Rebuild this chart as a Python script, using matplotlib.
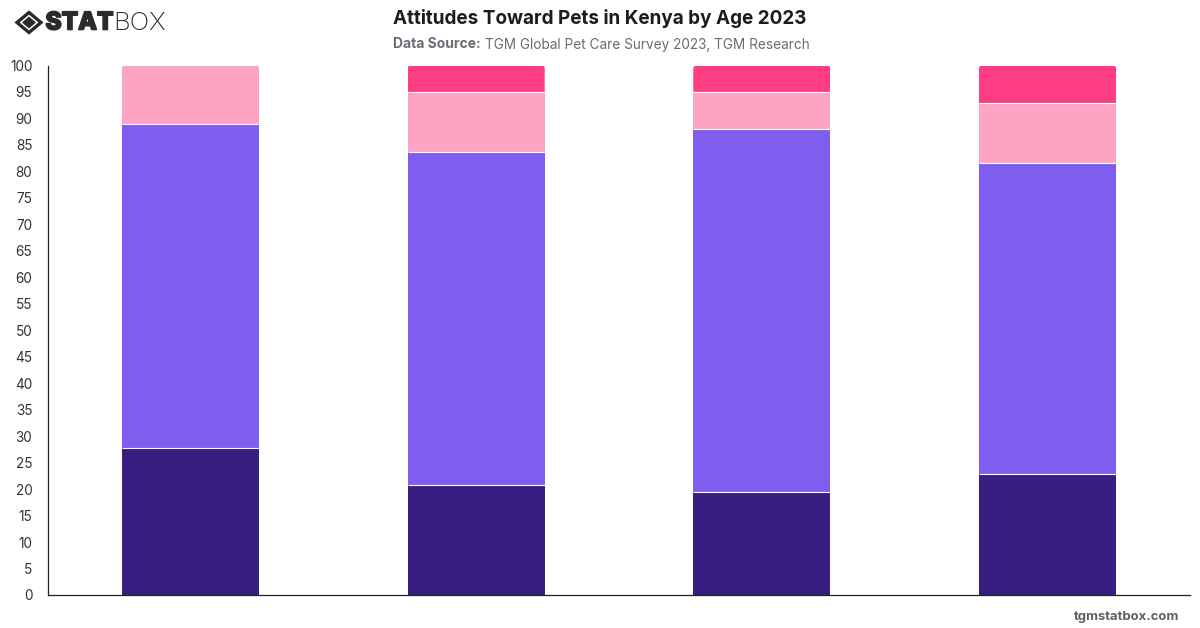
import matplotlib
matplotlib.use('Agg')
import matplotlib.pyplot as plt
import matplotlib.patheffects as pe
from matplotlib.patches import Polygon, FancyBboxPatch
import numpy as np

# Share of respondents per age group, bottom segment first
groups = ['18-24', '25-34', '35-44', '45+']
seg_dark = [27.8, 20.8, 19.4, 22.9]
seg_purple = [61.1, 62.8, 68.6, 58.6]
seg_light = [11.1, 11.4, 7.0, 11.4]
seg_hot = [0.0, 5.0, 5.0, 7.1]

segments = [seg_dark, seg_purple, seg_light, seg_hot]
colors = ['#371e80', '#7f5eef', '#ffa3c4', '#ff3d83']
y_ticks = list(range(0, 101, 5))

W, H = 1200, 628
plt.rcParams['font.family'] = ['Inter', 'DejaVu Sans']

fig = plt.figure(figsize=(W / 100, H / 100), dpi=100, facecolor='white')
ax = fig.add_axes([47.6 / W, 1 - 595.0 / H, 1142.8 / W, 529.5 / H])

x = np.arange(len(groups))
bar_w = 0.48
bottom = np.zeros(len(groups))
top_bars = {}
for vals, col in zip(segments, colors):
    bars = ax.bar(x, vals, bar_w, bottom=bottom, color=col, linewidth=0, zorder=2)
    for i, b in enumerate(bars):
        if vals[i] > 0:
            top_bars[i] = b
    bottom = bottom + np.array(vals)
    # thin white gap above each segment
    for i in range(len(groups)):
        if vals[i] > 0 and bottom[i] < 99.9:
            ax.plot([x[i] - bar_w / 2, x[i] + bar_w / 2], [bottom[i], bottom[i]],
                    color='white', lw=0.8, zorder=3, solid_capstyle='butt')

ax.set_xlim(-0.5, len(groups) - 0.5)
ax.set_ylim(0, 100)
ax.set_xticks([])
ax.set_yticks(y_ticks)
ax.tick_params(axis='y', length=0, pad=11, labelsize=9.8, labelcolor='#333333')
for side in ['top', 'right']:
    ax.spines[side].set_visible(False)
for side in ['left', 'bottom']:
    ax.spines[side].set_color('#222222')
    ax.spines[side].set_linewidth(0.9)

# slightly rounded corners on the top segment of each stack
fig.canvas.draw()
for i, b in top_bars.items():
    bb = b.get_window_extent()
    clip = FancyBboxPatch((bb.x0, bb.y0 - 10), bb.width, bb.height + 10,
                          boxstyle='round,pad=0,rounding_size=3',
                          transform=None, facecolor='none', edgecolor='none')
    b.set_clip_path(clip)

fig.text(600 / W, 1 - 18 / H, 'Attitudes Toward Pets in Kenya by Age 2023',
         ha='center', va='center', fontsize=13.6, fontweight='bold', color='#1c1c1e')

sub_y = 1 - 44.5 / H
fig.text(393 / W, sub_y, 'Data Source:', ha='left', va='center', fontsize=10,
         fontweight='bold', color='#6b6b75')
fig.text(485 / W, sub_y, 'TGM Global Pet Care Survey 2023, TGM Research', ha='left',
         va='center', fontsize=9.8, color='#6b6b75')

fig.text(1179 / W, 1 - 617 / H, 'tgmstatbox.com', ha='right', va='center',
         fontsize=9.4, fontweight='bold', color='#5f5f63')

# logo: diamond mark plus wordmark
def px(points):
    return [(p[0] / W, 1 - p[1] / H) for p in points]

logo_col = '#2b2b2b'
cx, cy = 29, 22.5
fig.add_artist(Polygon(px([(cx - 12, cy), (cx, cy - 10), (cx + 12, cy), (cx, cy + 10)]),
                       closed=True, transform=fig.transFigure, facecolor='none',
                       edgecolor=logo_col, linewidth=2.4))
fig.add_artist(Polygon(px([(cx - 7, cy), (cx, cy - 6), (cx + 7, cy), (cx, cy + 6)]),
                       closed=True, transform=fig.transFigure, facecolor=logo_col,
                       edgecolor='none'))
stat = fig.text(45.5 / W, 1 - 23 / H, 'STAT', ha='left', va='center', fontsize=17.6,
                fontweight='heavy', color=logo_col)
# the wordmark's first half is heavier than the font's bold
stat.set_path_effects([pe.withStroke(linewidth=1.2, foreground=logo_col)])
fig.text(113.5 / W, 1 - 23 / H, 'BOX', ha='left', va='center', fontsize=18.6,
         fontweight='light', color=logo_col)

fig.savefig('out.png', dpi=100, facecolor='white')
